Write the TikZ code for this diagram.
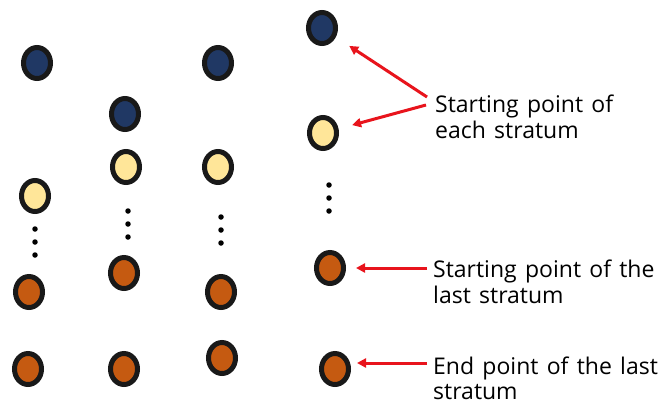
\documentclass[tikz,border=0pt]{standalone}
\usepackage{fontspec}
\setmainfont{Open Sans}
\usetikzlibrary{shapes.geometric,arrows.meta}
\definecolor{navy}{HTML}{203864}
\definecolor{paleyellow}{HTML}{FFE699}
\definecolor{rust}{HTML}{C55A11}
\definecolor{arrowred}{HTML}{E8141C}
\newcommand\labelfont{\fontsize{23}{27}\selectfont\spaceskip=0.36em plus 0.1em\relax}
\begin{document}
\begin{tikzpicture}[x=1pt,y=-1pt,
  pt/.style={ellipse,draw=black!90,line width=5pt,minimum width=27pt,minimum height=31pt,inner sep=0pt},
  startpt/.style={pt,fill=navy},
  newpt/.style={pt,fill=paleyellow},
  endpt/.style={pt,fill=rust},
  gap/.style={circle,fill=black,minimum size=5.5pt,inner sep=0pt},
  lbl/.style={anchor=base west,inner sep=0pt,font=\labelfont},
  pointer/.style={draw=arrowred,line width=3pt,-{Triangle[length=9pt,width=9pt]}}]
\useasboundingbox (0,0) rectangle (658,405);

% column 1
\node[startpt] (a1) at (37,63) {};
\node[newpt]   (a2) at (35,196) {};
\node[gap] (ad1) at (35,229) {};
\node[gap] (ad2) at (35,242) {};
\node[gap] (ad3) at (35,255) {};
\node[endpt]   (a3) at (29,292) {};
\node[endpt]   (a4) at (28,369) {};

% column 2
\node[startpt] (b1) at (125,114) {};
\node[newpt]   (b2) at (126,167) {};
\node[gap] (bd1) at (128,211) {};
\node[gap] (bd2) at (128,224) {};
\node[gap] (bd3) at (128,237) {};
\node[endpt]   (b3) at (124,273) {};
\node[endpt]   (b4) at (124,369) {};

% column 3
\node[startpt] (c1) at (218,63) {};
\node[newpt]   (c2) at (218,167) {};
\node[gap] (cd1) at (221,217) {};
\node[gap] (cd2) at (221,230) {};
\node[gap] (cd3) at (221,243) {};
\node[endpt]   (c3) at (221,292) {};
\node[endpt]   (c4) at (222,358) {};

% column 4
\node[startpt] (d1) at (322,28) {};
\node[newpt]   (d2) at (323,133) {};
\node[gap] (dd1) at (329,185) {};
\node[gap] (dd2) at (329,198) {};
\node[gap] (dd3) at (329,211) {};
\node[endpt]   (d3) at (330,268) {};
\node[endpt]   (d4) at (335,369) {};

% labels, one node per line
\node[lbl] (l1a) at (435,112) {Starting point of};
\node[lbl] (l1b) at (435,138) {each stratum};
\node[lbl] (l2a) at (433,277) {Starting point of the};
\node[lbl] (l2b) at (433,303) {last stratum};
\node[lbl] (l3a) at (433,374) {End point of the last};
\node[lbl] (l3b) at (433,399) {stratum};

% pointer start points
\coordinate (s1) at (427,97);
\coordinate (s2) at (426,105);
\coordinate (s3) at (427,268);
\coordinate (s4) at (427,363);

\draw[pointer,shorten >=16pt] (s1) -- (d1);
\draw[pointer,shorten >=14pt] (s2) -- (d2);
\draw[pointer,shorten >=10pt] (s3) -- (d3);
\draw[pointer,shorten >=6pt] (s4) -- (s4 -| d4.east);
\end{tikzpicture}
\end{document}
